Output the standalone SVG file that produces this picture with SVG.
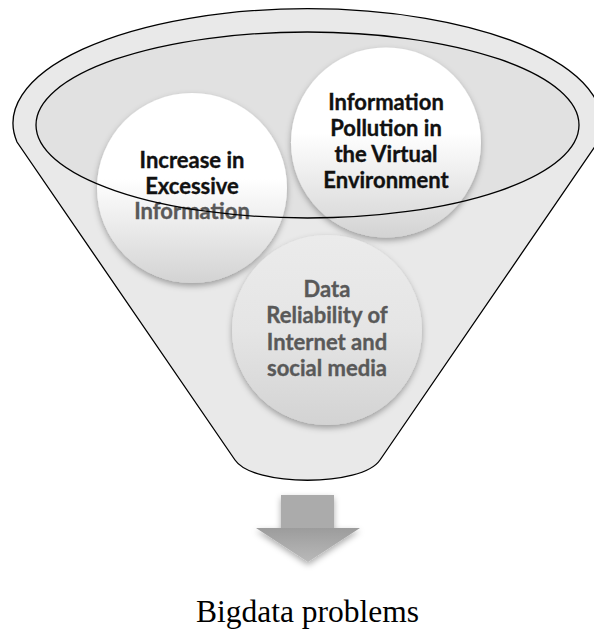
<svg xmlns="http://www.w3.org/2000/svg" width="594" height="630" viewBox="0 0 594 630">
  <defs>
    <linearGradient id="bubbleWhite" x1="0" y1="0" x2="0" y2="1">
      <stop offset="0" stop-color="#ffffff"/>
      <stop offset="0.45" stop-color="#ffffff"/>
      <stop offset="1" stop-color="#d3d3d3"/>
    </linearGradient>
    <linearGradient id="bubbleGray" x1="0" y1="0" x2="0" y2="1">
      <stop offset="0" stop-color="#ebebeb"/>
      <stop offset="0.5" stop-color="#e5e5e5"/>
      <stop offset="1" stop-color="#d3d3d3"/>
    </linearGradient>
    <linearGradient id="arrowHead" x1="0" y1="0" x2="0" y2="1">
      <stop offset="0" stop-color="#9c9c9c"/>
      <stop offset="1" stop-color="#b9b9b9"/>
    </linearGradient>
    <filter id="softShadow" x="-20%" y="-20%" width="140%" height="150%">
      <feDropShadow dx="0" dy="3" stdDeviation="3" flood-color="#000" flood-opacity="0.33"/>
    </filter>
  </defs>
  <style>
    .outline { stroke: #000; stroke-width: 1.3; }
    .label { font-family: Lato, "Open Sans", "Liberation Sans", sans-serif; font-weight: bold; font-size: 22px; text-anchor: middle; stroke-width: 0.35; }
    .dark { fill: #111; stroke: #111; }
    .muted { fill: #595959; stroke: #595959; }
    .caption { font-family: "Liberation Serif", "Times New Roman", serif; font-size: 31.5px; text-anchor: middle; fill: #000; }
  </style>

  <!-- funnel body -->
  <g id="funnel">
    <path class="outline" fill="#e9e9e9"
          d="M 17,142 A 294.5 114.5 0 1 1 598,142 L 380,460 C 362,487 253,487 235,460 Z"/>
    <ellipse cx="307.5" cy="125" rx="271.5" ry="93" fill="#e1e1e1"/>
  </g>

  <!-- the three problem bubbles -->
  <g id="node-excessive">
    <circle cx="192" cy="188" r="95" fill="url(#bubbleWhite)" filter="url(#softShadow)"/>
    <text class="label dark" x="192" y="168">Increase in</text>
    <text class="label dark" x="192" y="194">Excessive</text>
    <text class="label muted" x="192" y="219">Information</text>
  </g>

  <g id="node-pollution">
    <circle cx="386" cy="142.5" r="95" fill="url(#bubbleWhite)" filter="url(#softShadow)"/>
    <text class="label dark" x="386" y="110">Information</text>
    <text class="label dark" x="386" y="136">Pollution in</text>
    <text class="label dark" x="386" y="162">the Virtual</text>
    <text class="label dark" x="386" y="188">Environment</text>
  </g>

  <g id="node-reliability">
    <circle cx="327" cy="330" r="95" fill="url(#bubbleGray)" filter="url(#softShadow)"/>
    <text class="label muted" x="327" y="297">Data</text>
    <text class="label muted" x="327" y="323">Reliability of</text>
    <text class="label muted" x="327" y="350">Internet and</text>
    <text class="label muted" x="327" y="376">social media</text>
  </g>

  <!-- rim of the funnel mouth, drawn over the bubbles -->
  <g id="funnel-rim">
    <ellipse class="outline" cx="307.5" cy="125" rx="271.5" ry="93" fill="none"/>
  </g>

  <!-- output arrow -->
  <g id="connectors">
    <g filter="url(#softShadow)">
      <rect x="281" y="495" width="53" height="34" fill="#ababab"/>
      <polygon points="256,528 360,528 308,562" fill="url(#arrowHead)"/>
    </g>
  </g>

  <g id="result">
    <text class="caption" x="307.5" y="622">Bigdata problems</text>
  </g>
</svg>
